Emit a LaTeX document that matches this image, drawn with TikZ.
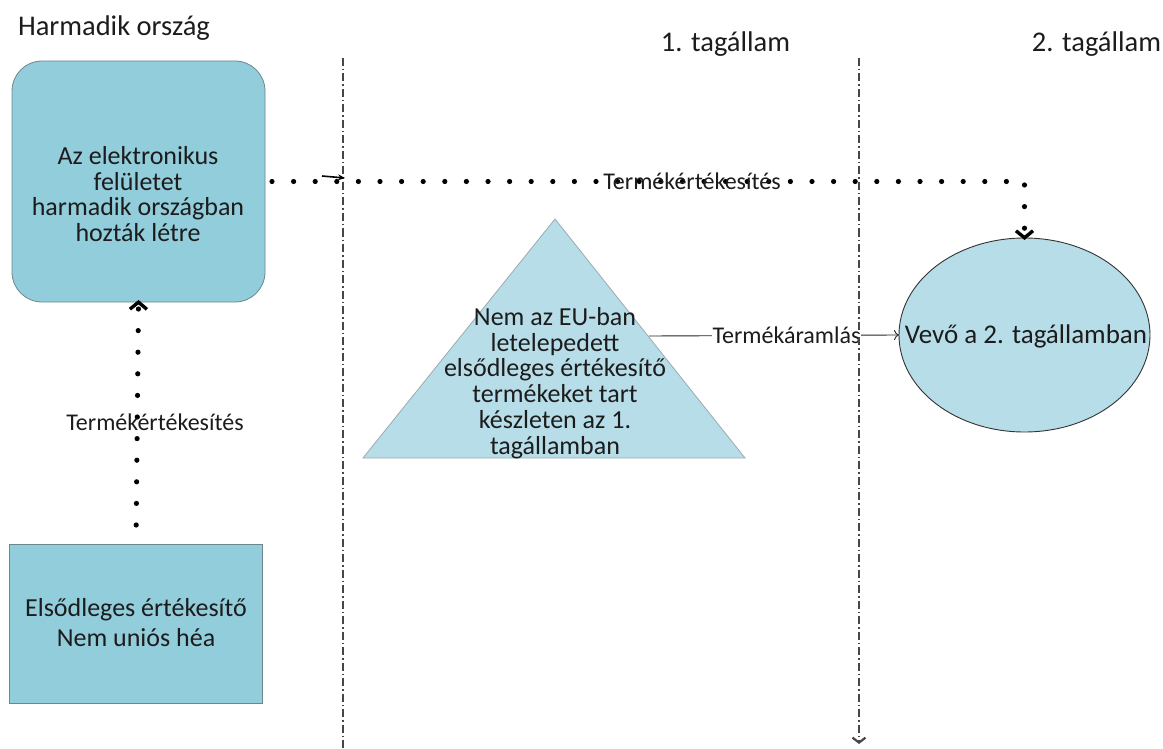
\documentclass[tikz,border=0pt]{standalone}
\usepackage{fontspec}
\setmainfont{Carlito}
\usetikzlibrary{arrows.meta,shapes.geometric}
\definecolor{boxfill}{RGB}{146,205,220}
\definecolor{lightfill}{RGB}{183,221,232}
\definecolor{txt}{RGB}{28,28,28}
\definecolor{boxline}{RGB}{110,135,140}
\begin{document}
\begin{tikzpicture}[x=1pt,y=-1pt,
  every node/.style={text=txt, inner sep=0pt, outer sep=0pt},
  title/.style={font=\fontsize{28.5}{32}\selectfont},
  boxtext/.style={align=center, font=\fontsize{26}{25.5}\selectfont},
  flowlabel/.style={font=\fontsize{24}{26}\selectfont},
  platform/.style={draw=boxline, line width=0.8pt, fill=boxfill, rounded corners=30pt,
                   minimum width=253pt, minimum height=241pt},
  sellerbox/.style={draw=boxline, line width=0.8pt, fill=boxfill,
                    minimum width=253pt, minimum height=159pt},
  buyershape/.style={ellipse, draw=black!80, line width=0.9pt, fill=lightfill,
                     minimum width=251pt, minimum height=194pt},
  dotflow/.style={line width=5.2pt, line cap=round, dash pattern=on 0pt off 21.6pt},
  dottip/.style={-{Straight Barb[length=7pt,width=17pt,line width=3.4pt,sep=-2pt]}},
  divider/.style={line width=1.1pt, draw=black!72, dash pattern=on 8pt off 3pt on 1.5pt off 3pt},
  thinflow/.style={line width=0.9pt, draw=black!85}
]
\useasboundingbox (0,0) rectangle (1163,749);

% column headings
\node[title, anchor=west] (third) at (18,28) {Harmadik ország};
\node[title] (ms1) at (725.5,44) {1. tagállam};
\node[title] (ms2) at (1096.5,44) {2. tagállam};

% platform created in a third country
\node[platform] (plat) at (138.5,181.5) {};
\node[boxtext] (platlbl) at (138,194) {Az elektronikus\\felületet\\harmadik országban\\hozták létre};

% primary seller outside the EU
\node[sellerbox] (seller) at (136,623.5) {};
\node[boxtext, font=\fontsize{26}{30}\selectfont] (sellerlbl) at (136,623) {Elsődleges értékesítő\\Nem uniós héa};

% seller holding stock in member state 1
\path[draw=boxline!70, line width=0.8pt, fill=lightfill]
  (555,219) coordinate (apex) -- (745,458) coordinate (baseR) -- (363,458) coordinate (baseL) -- cycle;
\node[boxtext, font=\fontsize{26}{25.8}\selectfont] (stock) at (555,383)
  {Nem az EU-ban\\letelepedett\\elsődleges értékesítő\\termékeket tart\\készleten az 1.\\tagállamban};

% customer in member state 2
\node[buyershape] (buyer) at (1024.5,335) {};
\node[font=\fontsize{27}{30}\selectfont] (buyerlbl) at (1026,336) {Vevő a 2. tagállamban};

% supply from the seller to the platform
\draw[dotflow, dottip, shorten <=19pt] (seller.north) -- (plat.south);
\node[flowlabel] (supply1) at (155,422) {Termékértékesítés};

% supply from the platform to the customer
\draw[dotflow, dottip, shorten <=7pt] (plat.east) -| (buyer.north);
\node[flowlabel] (supply2) at (692,181) {Termékértékesítés};

% flow of goods
\coordinate (flowstart) at (649,336);
\draw[thinflow, -{To[length=5pt,width=10pt]}] (flowstart) -- (buyer.west)
  node[flowlabel, pos=0.55, fill=white, inner sep=1pt] (goods) {Termékáramlás};

% borders between the territories
\coordinate (b1top) at (343,58);
\coordinate (b1bot) at (343,749);
\coordinate (b2top) at (859,58);
\coordinate (b2bot) at (859,744);
\draw[divider] (b1top) -- (b1bot);
\draw[divider, -{Straight Barb[length=5pt,width=13pt,line width=2.2pt]}] (b2top) -- (b2bot);

% short marker where the supply crosses the first border
\coordinate (mk1) at (322,176);
\coordinate (mk2) at (345,178);
\draw[line width=1.6pt, -{Stealth[length=7pt,width=6pt]}] (mk1) -- (mk2);
\end{tikzpicture}
\end{document}
